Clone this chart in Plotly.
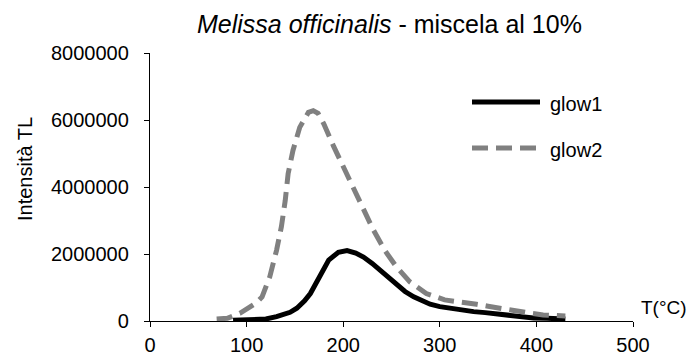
import plotly.graph_objects as go

# Data
t_glow1 = [86, 100, 120, 131, 145, 152, 160, 166, 176, 185, 195, 204, 213, 221, 230, 238,
           247, 255, 264, 273, 282, 290, 300, 311, 323, 335, 347, 359, 371, 383, 397, 411, 420, 430]
i_glow1 = [20000, 30000, 60000, 130000, 260000, 380000, 600000, 820000, 1320000, 1820000,
           2050000, 2100000, 2030000, 1910000, 1720000, 1520000, 1290000, 1070000, 880000,
           720000, 590000, 500000, 430000, 380000, 320000, 280000, 250000, 210000, 160000,
           110000, 90000, 80000, 70000, 60000]

t_glow2 = [69, 80, 93, 103, 110, 116, 124, 131, 136, 140, 143, 148, 155, 164, 169, 174, 180,
           190, 200, 210, 221, 231, 243, 255, 269, 286, 305, 314, 325, 338, 350, 361, 372, 383,
           395, 407, 420, 430]
i_glow2 = [60000, 80000, 230000, 390000, 540000, 720000, 1320000, 2110000, 2810000, 3600000,
           4400000, 5090000, 5780000, 6230000, 6280000, 6200000, 5880000, 5220000, 4600000,
           3950000, 3300000, 2730000, 2110000, 1620000, 1170000, 820000, 630000, 600000,
           560000, 500000, 440000, 380000, 330000, 280000, 230000, 180000, 160000, 150000]

x_ticks = [0, 100, 200, 300, 400, 500]
y_ticks = [0, 2000000, 4000000, 6000000, 8000000]
series_names = ["glow1", "glow2"]

FONT = "Liberation Sans, Arial, sans-serif"
W, H = 691, 356
# plot area in window pixels
SX0, SX1, SY0, SY1 = 150, 633, 53, 321
L, R, T, B = SX0, W - SX1, SY0, H - SY1

style1 = dict(color="black", width=5)
style2 = dict(color="#808080", width=5, dash="16px,8px")

fig = go.Figure()
fig.add_trace(go.Scatter(x=t_glow1, y=i_glow1, mode="lines", name=series_names[0],
                         line=style1, showlegend=False))
fig.add_trace(go.Scatter(x=t_glow2, y=i_glow2, mode="lines", name=series_names[1],
                         line=style2, showlegend=False))

fig.update_layout(
    template="none",
    width=W, height=H,
    margin=dict(l=L, r=R, t=T, b=B, pad=0, autoexpand=False),
    paper_bgcolor="white", plot_bgcolor="white",
    font=dict(family=FONT, size=20, color="black"),
    xaxis=dict(range=[0, 500], tickvals=x_ticks, ticks="outside", ticklen=5, tickwidth=1.3,
               tickcolor="black", showline=True, linecolor="black", linewidth=1.3,
               showgrid=False, zeroline=False, tickfont=dict(size=20), ticklabelstandoff=1,
               automargin=False),
    yaxis=dict(range=[0, 8000000], tickvals=y_ticks, tickformat="d", ticks="outside",
               ticklen=5, tickwidth=1.3, tickcolor="black", showline=True, linecolor="black",
               linewidth=1.3, showgrid=False, zeroline=False, tickfont=dict(size=20),
               ticklabelstandoff=11, automargin=False),
    showlegend=False,
)


def px_x(p):
    return (p - SX0) / (SX1 - SX0)


def px_y(p):
    return (SY1 - p) / (SY1 - SY0)


# Title
fig.add_annotation(text="<i>Melissa officinalis</i> - miscela al 10%", xref="paper", yref="paper",
                   x=px_x(389), y=px_y(24), xanchor="center", yanchor="middle",
                   showarrow=False, font=dict(size=25))
# Axis titles
fig.add_annotation(text="Intensità TL", xref="paper", yref="paper", x=px_x(25), y=px_y(169),
                   xanchor="center", yanchor="middle", textangle=-90, showarrow=False,
                   font=dict(size=20))
fig.add_annotation(text="T(°C)", xref="paper", yref="paper", x=px_x(689), y=px_y(307),
                   xanchor="right", yanchor="middle", showarrow=False, font=dict(size=19))

# Legend
leg = [(series_names[0], 102, style1), (series_names[1], 148, style2)]
for name, yy, ln in leg:
    fig.add_shape(type="line", xref="paper", yref="paper", x0=px_x(472), x1=px_x(540),
                  y0=px_y(yy), y1=px_y(yy), line=ln)
    fig.add_annotation(text=name, xref="paper", yref="paper", x=px_x(548), y=px_y(yy + 2),
                       xanchor="left", yanchor="middle", showarrow=False, font=dict(size=20))

# remove the page's default 8px body margin so the figure fills the window exactly
fig.write_html("out.html", config={"displayModeBar": False},
               post_script="document.body.style.margin='0';document.body.style.overflow='hidden';")
